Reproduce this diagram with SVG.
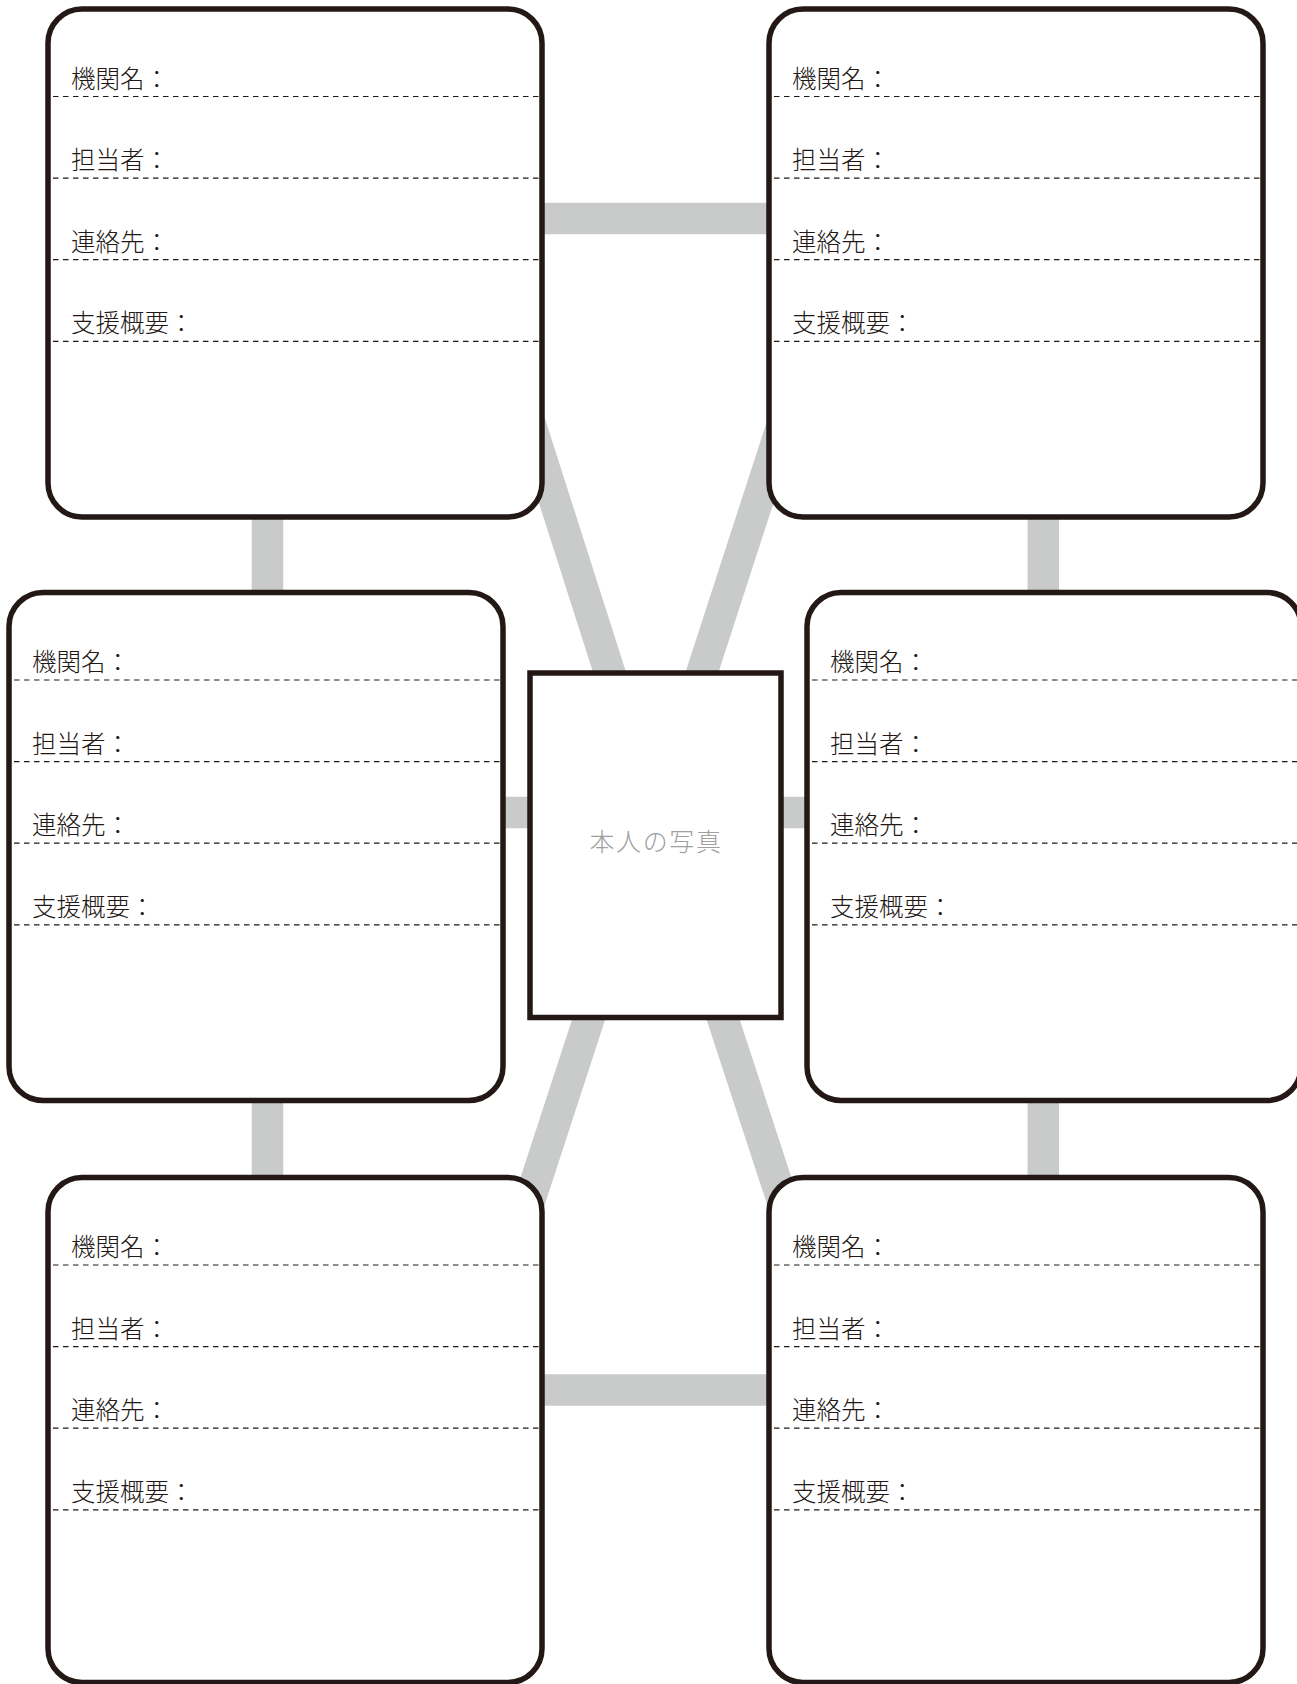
<svg xmlns="http://www.w3.org/2000/svg" width="1297" height="1684" viewBox="0 0 1297 1684">
<style>
.band{stroke:#c9caca;stroke-width:31.5;fill:none;stroke-linecap:butt}
.box{fill:#ffffff;stroke:#231815;stroke-width:5.5}
.dash{stroke:#231815;stroke-width:1.2;stroke-dasharray:5.5 4.5;fill:none}
.lbl{font-family:"Noto Sans CJK JP","Noto Sans CJK SC",sans-serif;font-size:24.5px;fill:#231815;font-weight:300}
.photo{font-family:"Noto Sans CJK JP","Noto Sans CJK SC",sans-serif;font-size:25px;fill:#9fa0a0;font-weight:300;letter-spacing:1.6px}
</style>
<defs>
<g id="fields">
<line class="dash" x1="5" y1="87.5" x2="491" y2="87.5"/>
<line class="dash" x1="5" y1="169.1" x2="491" y2="169.1"/>
<line class="dash" x1="5" y1="250.7" x2="491" y2="250.7"/>
<line class="dash" x1="5" y1="332.3" x2="491" y2="332.3"/>
<text class="lbl" x="23" y="78.5">機関名：</text>
<text class="lbl" x="23" y="160.1">担当者：</text>
<text class="lbl" x="23" y="241.7">連絡先：</text>
<text class="lbl" x="23" y="323.3">支援概要：</text>
</g>
</defs>
<g id="connectors">
<line class="band" x1="520" y1="218.5" x2="790" y2="218.5"/>
<line class="band" x1="520" y1="1390" x2="790" y2="1390"/>
<line class="band" x1="490" y1="812.5" x2="550" y2="812.5"/>
<line class="band" x1="760" y1="812.5" x2="830" y2="812.5"/>
<line class="band" x1="267.5" y1="500" x2="267.5" y2="610"/>
<line class="band" x1="1043.3" y1="500" x2="1043.3" y2="610"/>
<line class="band" x1="267.5" y1="1080" x2="267.5" y2="1195"/>
<line class="band" x1="1043.3" y1="1080" x2="1043.3" y2="1195"/>
<line class="band" x1="520" y1="392" x2="620" y2="705"/>
<line class="band" x1="793" y1="392" x2="693" y2="700"/>
<line class="band" x1="595" y1="1000" x2="515" y2="1245"/>
<line class="band" x1="716.7" y1="1000" x2="797" y2="1245"/>
</g>
<g id="node-top-left" transform="translate(48,9)">
<rect class="box" x="0" y="0" width="494" height="508" rx="34"/>
<use href="#fields"/>
</g>
<g id="node-top-right" transform="translate(769,9)">
<rect class="box" x="0" y="0" width="494" height="508" rx="34"/>
<use href="#fields"/>
</g>
<g id="node-middle-left" transform="translate(9,592.5)">
<rect class="box" x="0" y="0" width="494" height="508" rx="34"/>
<use href="#fields"/>
</g>
<g id="node-middle-right" transform="translate(807,592.5)">
<rect class="box" x="0" y="0" width="494" height="508" rx="34"/>
<use href="#fields"/>
</g>
<g id="node-bottom-left" transform="translate(48,1177.5)">
<rect class="box" x="0" y="0" width="494" height="505" rx="34"/>
<use href="#fields"/>
</g>
<g id="node-bottom-right" transform="translate(769,1177.5)">
<rect class="box" x="0" y="0" width="494" height="505" rx="34"/>
<use href="#fields"/>
</g>
<g id="node-photo">
<rect class="box" x="530" y="673" width="251" height="344.5"/>
<text class="photo" x="656" y="851" text-anchor="middle">本人の写真</text>
</g>
</svg>
